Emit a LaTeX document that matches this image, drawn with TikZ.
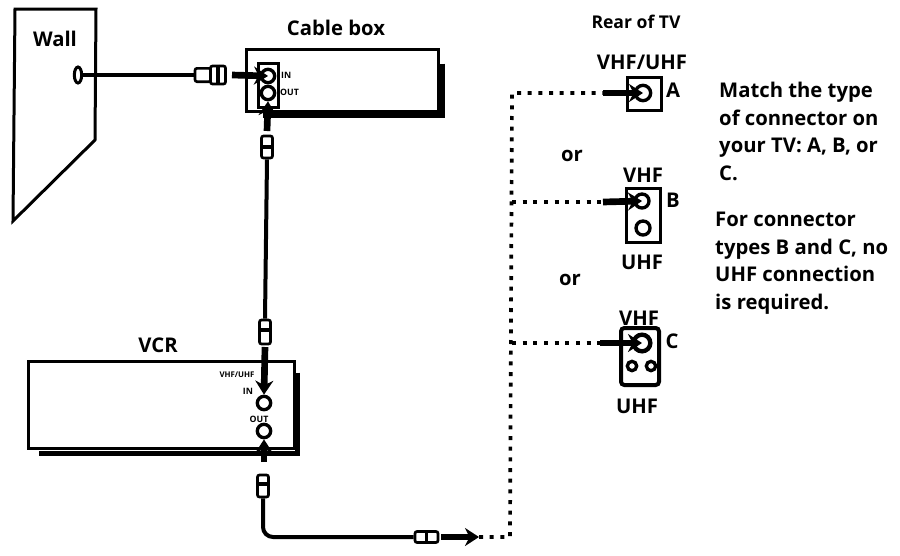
\documentclass[tikz,border=0pt]{standalone}
\usepackage{fontspec}
\setmainfont{Open Sans}
\usetikzlibrary{arrows.meta,shapes.geometric}

\tikzset{
    tag/.style={font=\fontsize{17.3}{23.5}\selectfont\bfseries, inner sep=0pt},
    tinytag/.style={font=\fontsize{7.5}{8}\selectfont\bfseries, inner sep=0pt},
    device/.style={draw, line width=0.09cm, inner sep=0pt},
    shadowline/.style={line width=0.17cm},
    port/.style={draw, circle, line width=0.1cm, inner sep=0pt},
    cable/.style={line width=0.12cm},
    feed/.style={line width=0.2cm, -{Stealth[length=0.42cm, width=0.54cm]}},
    dotrun/.style={line width=0.11cm, dash pattern=on 0.12cm off 0.2cm},
    plug/.style={draw, rounded corners=0.06cm, line width=0.08cm, inner sep=0pt},
    band/.style={line width=0.11cm}
}

\begin{document}
\begin{tikzpicture}[x=0.03cm, y=-0.03cm]
    \useasboundingbox (0,0) rectangle (900,555);

    % Wall
    \node[tag] (walltext) at (55,39) {Wall};
    \draw[line width=0.09cm] (15,9) -- (96,9) -- (95,140) -- (13,221) -- cycle;
    \node[draw, ellipse, line width=0.09cm, fill=white, minimum width=0.22cm, minimum height=0.48cm, inner sep=0pt] (wallout) at (78,75) {};

    % Cable box
    \node[tag] (cablelabel) at (336,28) {Cable box};
    \node[device, minimum width=5.73cm, minimum height=1.86cm] (cablebox) at (342.5,80) {};
    \draw[shadowline] ([shift={(3,16)}]cablebox.north east) -- ([shift={(3,3)}]cablebox.south east) -- ([shift={(18,3)}]cablebox.south west);
    \node[device, minimum width=0.6cm, minimum height=1.32cm] (panel) at (268,85) {};
    \node[port, minimum size=0.4cm] (cablein) at (268,76) {};
    \node[port, minimum size=0.4cm] (cableout) at (268,93) {};
    \node[tinytag, anchor=west] (cableintext) at (281,75) {IN};
    \node[tinytag, anchor=west] (cableouttext) at (280,92) {OUT};

    % VCR
    \node[tag] (vcrlabel) at (158,345) {VCR};
    \node[device, minimum width=7.95cm, minimum height=2.61cm] (vcr) at (161.5,404.5) {};
    \draw[shadowline] ([shift={(2,13)}]vcr.north east) -- ([shift={(2,4)}]vcr.south east) -- ([shift={(12,4)}]vcr.south west);
    \node[port, minimum size=0.4cm] (vcrin) at (264,403) {};
    \node[port, minimum size=0.4cm] (vcrout) at (264,431) {};
    \node[tinytag, font=\fontsize{6.7}{7}\selectfont\bfseries] (vhftext) at (237,375) {VHF/UHF};
    \node[tinytag] (vcrintext) at (248,391) {IN};
    \node[tinytag] (vcrouttext) at (259,419) {OUT};

    % Rear of TV
    \node[tag, font=\fontsize{15}{18}\selectfont\bfseries] (reartext) at (636,22) {Rear of TV};
    \node[tag] (typeatext) at (642,62) {VHF/UHF};
    \node[device, minimum width=1.02cm, minimum height=0.99cm] (typea) at (644,93.5) {};
    \node[port, minimum size=0.46cm] (porta) at (643,93) {};
    \node[tag] (atext) at (673,90) {A};
    \node[tag] (ortext) at (572,156) {or};

    \node[tag] (typebtext) at (643,175) {VHF};
    \node[device, minimum width=1.02cm, minimum height=1.62cm] (typeb) at (643,215) {};
    \node[port, minimum size=0.42cm] (portb) at (642,201) {};
    \node[port, minimum size=0.42cm] (portbb) at (643,228) {};
    \node[tag] (btext) at (673,200) {B};
    \node[tag] (typebbtext) at (642,262) {UHF};
    \node[tag] (orctext) at (570,280) {or};

    \node[tag] (typectext) at (639,318) {VHF};
    \node[device, rounded corners=0.1cm, line width=0.12cm, minimum width=1.14cm, minimum height=1.71cm] (typec) at (640,356.5) {};
    \node[port, line width=0.13cm, minimum size=0.5cm] (portc) at (642,343) {};
    \node[port, minimum size=0.28cm] (portcl) at (632,366) {};
    \node[port, minimum size=0.28cm] (portcr) at (651,366) {};
    \node[tag] (ctext) at (672,341) {C};
    \node[tag] (typecctext) at (637,406) {UHF};

    % Notes on the right
    \node[tag, anchor=north west, align=left] (matchnote) at (719,82) {Match the type\\of connector on\\your TV: A, B, or\\C.};
    \node[tag, anchor=north west, align=left] (typesnote) at (715,212) {For connector\\types B and C, no\\UHF connection\\is required.};

    % Plugs
    \node[plug, minimum width=0.48cm, minimum height=0.4cm] (wallplug) at (203,75) {};
    \node[plug, fill=white, minimum width=0.45cm, minimum height=0.54cm] (wallnut) at (218,75) {};
    \draw[band] (wallnut.north) -- (wallnut.south);
    \node[plug, minimum width=0.33cm, minimum height=0.66cm] (topplug) at (267,147) {};
    \draw[band] (topplug.west) -- (topplug.east);
    \node[plug, minimum width=0.33cm, minimum height=0.72cm] (midplug) at (265,332) {};
    \draw[band] ([yshift=0.06cm]midplug.west) -- ([yshift=0.06cm]midplug.east);
    \node[plug, minimum width=0.33cm, minimum height=0.66cm] (lowplug) at (263,486) {};
    \draw[band] ([yshift=0.06cm]lowplug.west) -- ([yshift=0.06cm]lowplug.east);
    \node[plug, minimum width=0.69cm, minimum height=0.33cm] (endplug) at (426.5,537) {};
    \draw[band] (endplug.north) -- (endplug.south);

    % Coordinates of the runs
    \coordinate (bend) at (263,537);
    \coordinate (trunk) at (510,537);
    \coordinate (cornera) at (512,93);
    \coordinate (cornerb) at (512,202);
    \coordinate (cornerc) at (512,343);
    \coordinate (tvfeeda) at (603,93);
    \coordinate (tvfeedb) at (603,202);
    \coordinate (tvfeedc) at (600,343);
    \coordinate (wallfeed) at (232,75);
    \coordinate (topfeed) at (267,131);
    \coordinate (midfeed) at (265,347);
    \coordinate (lowfeed) at (264,462);
    \coordinate (endfeed) at (441,537);
    \coordinate (endtip) at (479,537);

    % Cables
    \draw[cable] (wallout.east) -- (wallplug.west);
    \draw[cable] (topplug.south) -- (midplug.north);
    \draw[cable, rounded corners=0.3cm] (lowplug.south) -- (bend) -- (endplug.west);

    % Thick arrows into the ports
    \draw[feed] (wallfeed) -- (cablein.center);
    \draw[feed] (topfeed) -- (cableout.south);
    \draw[feed] (midfeed) -- (vcrin.north);
    \draw[feed] (lowfeed) -- (vcrout.south);
    \draw[feed] (endfeed) -- (endtip);
    \draw[feed] (tvfeeda) -- (porta.center);
    \draw[feed] (tvfeedb) -- (portb.center);
    \draw[feed] (tvfeedc) -- (portc.center);

    % Dotted run to the TV
    \draw[dotrun] (endtip) -- (trunk) -- (cornera) -- (tvfeeda);
    \draw[dotrun] (cornerb) -- (tvfeedb);
    \draw[dotrun] (cornerc) -- (tvfeedc);
\end{tikzpicture}
\end{document}
